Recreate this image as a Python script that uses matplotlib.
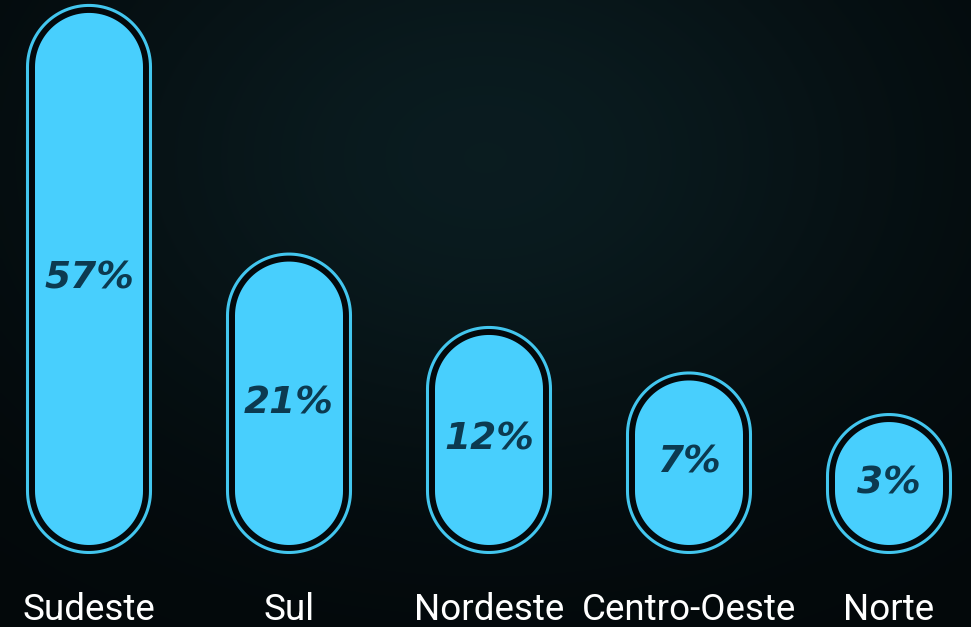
import numpy as np
import matplotlib
matplotlib.use("Agg")
import matplotlib.pyplot as plt
from matplotlib.patches import Polygon

# dados
regioes = ["Sudeste", "Sul", "Nordeste", "Centro-Oeste", "Norte"]
percentuais = [57, 21, 12, 7, 3]

# escala de potência (altura ~ valor**P) e base mínima da pílula
P = 0.8
PX_X = 200.0
PX_Y = 17.8
BASE = 4.5

FILL = "#48cffd"
RING = "#43c6ee"
DARK = "#03090c"
TXT = "#0c3a50"

W, H = 971, 627
fig = plt.figure(figsize=(W / 100, H / 100), dpi=100)
ax = fig.add_axes([0, 0, 1, 1])
x0 = -89 / PX_X
x1 = (W - 89) / PX_X
y_bot = -(H - 545) / PX_Y
y_top = 545 / PX_Y
ax.set_xlim(x0, x1)
ax.set_ylim(y_bot, y_top)
ax.axis("off")

# fundo escuro com leve brilho azulado
gx, gy = np.meshgrid(np.linspace(0, 1, 240), np.linspace(0, 1, 160))
glow = np.exp(-(((gx - 0.5) / 0.45) ** 2 + ((gy - 0.25) / 0.5) ** 2))
c0 = np.array([0.012, 0.030, 0.038])
c1 = np.array([0.040, 0.110, 0.125])
img = c0 + glow[..., None] * (c1 - c0)
ax.imshow(img, extent=(x0, x1, y_bot, y_top), origin="upper",
          aspect="auto", zorder=0, interpolation="bilinear")


def pill(cx, y0, y1, half_px, **kw):
    rx = half_px / PX_X
    ry = half_px / PX_Y
    yt = max(y1 - ry, (y0 + y1) / 2)
    yb = min(y0 + ry, (y0 + y1) / 2)
    t = np.linspace(0, np.pi, 60)
    top = np.column_stack([cx + rx * np.cos(t), yt + ry * np.sin(t)])
    bot = np.column_stack([cx - rx * np.cos(t), yb - ry * np.sin(t)])
    return Polygon(np.vstack([top, bot]), closed=True, **kw)


pad = 7.5 / PX_Y
for i, (reg, v) in enumerate(zip(regioes, percentuais)):
    y1 = v ** P + BASE
    ax.add_patch(pill(i, -pad, y1 + pad, 54 + 7.5, facecolor=DARK,
                      edgecolor=RING, linewidth=2.2, zorder=2))
    ax.add_patch(pill(i, 0, y1, 54, facecolor=FILL, edgecolor="none", zorder=3))
    ax.text(i, y1 / 2, f"{v}%", ha="center", va="center", color=TXT,
            fontsize=27, fontweight="bold", fontstyle="oblique",
            family=["DejaVu Sans"], zorder=4)
    ax.text(i, -75 / PX_Y, reg, ha="center", va="baseline", color="white",
            fontsize=26.5, family=["Roboto", "DejaVu Sans"], zorder=4)

fig.savefig("out.png", dpi=100, facecolor="#03090c")
